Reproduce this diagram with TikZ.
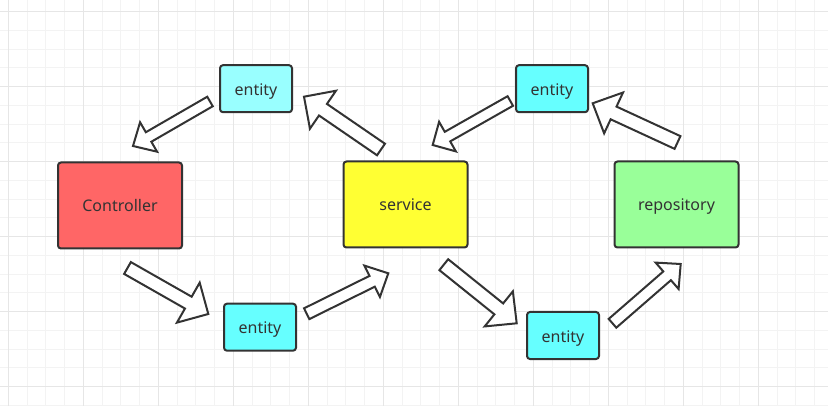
\documentclass[tikz,border=0pt]{standalone}
\usepackage{fontspec}
\setmainfont{Noto Sans}
\usetikzlibrary{calc}
\definecolor{gridminor}{HTML}{F3F3F3}
\definecolor{gridmajor}{HTML}{E6E6E6}
\definecolor{edge}{HTML}{333333}
\definecolor{txt}{HTML}{333333}
\definecolor{ctrlred}{HTML}{FF6666}
\definecolor{servy}{HTML}{FFFF33}
\definecolor{repog}{HTML}{99FF99}
\definecolor{entlight}{HTML}{99FFFF}
\definecolor{entcyan}{HTML}{66FFFF}
\tikzset{
  box/.style={draw=edge, line width=2pt, rounded corners=3pt, inner sep=0pt,
    minimum width=124pt, minimum height=86pt},
  entbox/.style={box, minimum width=72pt, minimum height=47pt},
  blockarrow/.style={draw=edge, fill=white, line width=2pt, line join=miter},
  lbl/.style={text=txt, font=\fontsize{16}{19}\selectfont, inner sep=0pt, anchor=base},
}
\newcommand{\blockarr}[5]{%
  \path ($(#2)!#5!(#1)$) coordinate (bac);
  \draw[blockarrow] ($(#1)!#3!90:(#2)$) -- ($(bac)!#3!-90:(#1)$) -- ($(bac)!#4!-90:(#1)$) -- (#2)
    -- ($(bac)!#4!90:(#1)$) -- ($(bac)!#3!90:(#1)$) -- ($(#1)!#3!-90:(#2)$) -- cycle;
}
\begin{document}
\begin{tikzpicture}[x=1pt,y=-1pt]
\useasboundingbox (0,0) rectangle (828,406);
\fill[white] (0,0) rectangle (828,406);
\foreach \i in {0,...,43} \draw[gridminor, line width=1pt] (8.3+18.75*\i,0) -- (8.3+18.75*\i,406);
\foreach \i in {0,...,21} \draw[gridminor, line width=1pt] (0,11.7+18.75*\i) -- (828,11.7+18.75*\i);
\foreach \i in {0,...,10} \draw[gridmajor, line width=1pt] (8.3+75*\i,0) -- (8.3+75*\i,406);
\foreach \i in {0,...,5} \draw[gridmajor, line width=1pt] (0,11.7+75*\i) -- (828,11.7+75*\i);

\node[box, fill=ctrlred] (ctrl) at (120,205.5) {};
\node[box, fill=servy] (serv) at (405.5,204.5) {};
\node[box, fill=repog] (repo) at (676.5,204.5) {};
\node[entbox, fill=entlight] (etl) at (256,88.7) {};
\node[entbox, fill=entcyan] (etr) at (552,88.7) {};
\node[entbox, fill=entcyan] (ebl) at (260,327.2) {};
\node[entbox, fill=entcyan] (ebr) at (563,335.5) {};

\node[lbl] (ctrlt) at ($(ctrl.center)+(0,6.5)$) {Controller};
\node[lbl] (servt) at ($(serv.center)+(0,6.5)$) {service};
\node[lbl] (repot) at ($(repo.center)+(0,6.5)$) {repository};
\node[lbl] (etlt) at ($(etl.center)+(0,6.5)$) {entity};
\node[lbl] (etrt) at ($(etr.center)+(0,6.5)$) {entity};
\node[lbl] (eblt) at ($(ebl.center)+(0,6.5)$) {entity};
\node[lbl] (ebrt) at ($(ebr.center)+(0,6.5)$) {entity};

% arrow end points
\coordinate (a1t) at (210,101.5);   \coordinate (a1h) at (133,146);
\coordinate (a2t) at (381,149.5);   \coordinate (a2h) at (304,96.7);
\coordinate (a3t) at (127.5,268);   \coordinate (a3h) at (208.3,314);
\coordinate (a4t) at (306.7,313.7); \coordinate (a4h) at (388.3,273.3);
\coordinate (a5t) at (510.3,101);   \coordinate (a5h) at (432.7,145);
\coordinate (a6t) at (677.5,142.5); \coordinate (a6h) at (592.7,103.3);
\coordinate (a7t) at (443.8,264.7); \coordinate (a7h) at (516.7,323.3);
\coordinate (a8t) at (612.5,323.3); \coordinate (a8h) at (680.7,264);

\blockarr{a1t}{a1h}{5.5pt}{17pt}{18pt}
\blockarr{a2t}{a2h}{7pt}{23pt}{23pt}
\blockarr{a3t}{a3h}{6.8pt}{23pt}{23pt}
\blockarr{a4t}{a4h}{6pt}{17.5pt}{18pt}
\blockarr{a5t}{a5h}{5.5pt}{17pt}{17pt}
\blockarr{a6t}{a6h}{7pt}{22.5pt}{23pt}
\blockarr{a7t}{a7h}{7pt}{22.5pt}{23pt}
\blockarr{a8t}{a8h}{5.8pt}{17.5pt}{18pt}
\end{tikzpicture}
\end{document}
